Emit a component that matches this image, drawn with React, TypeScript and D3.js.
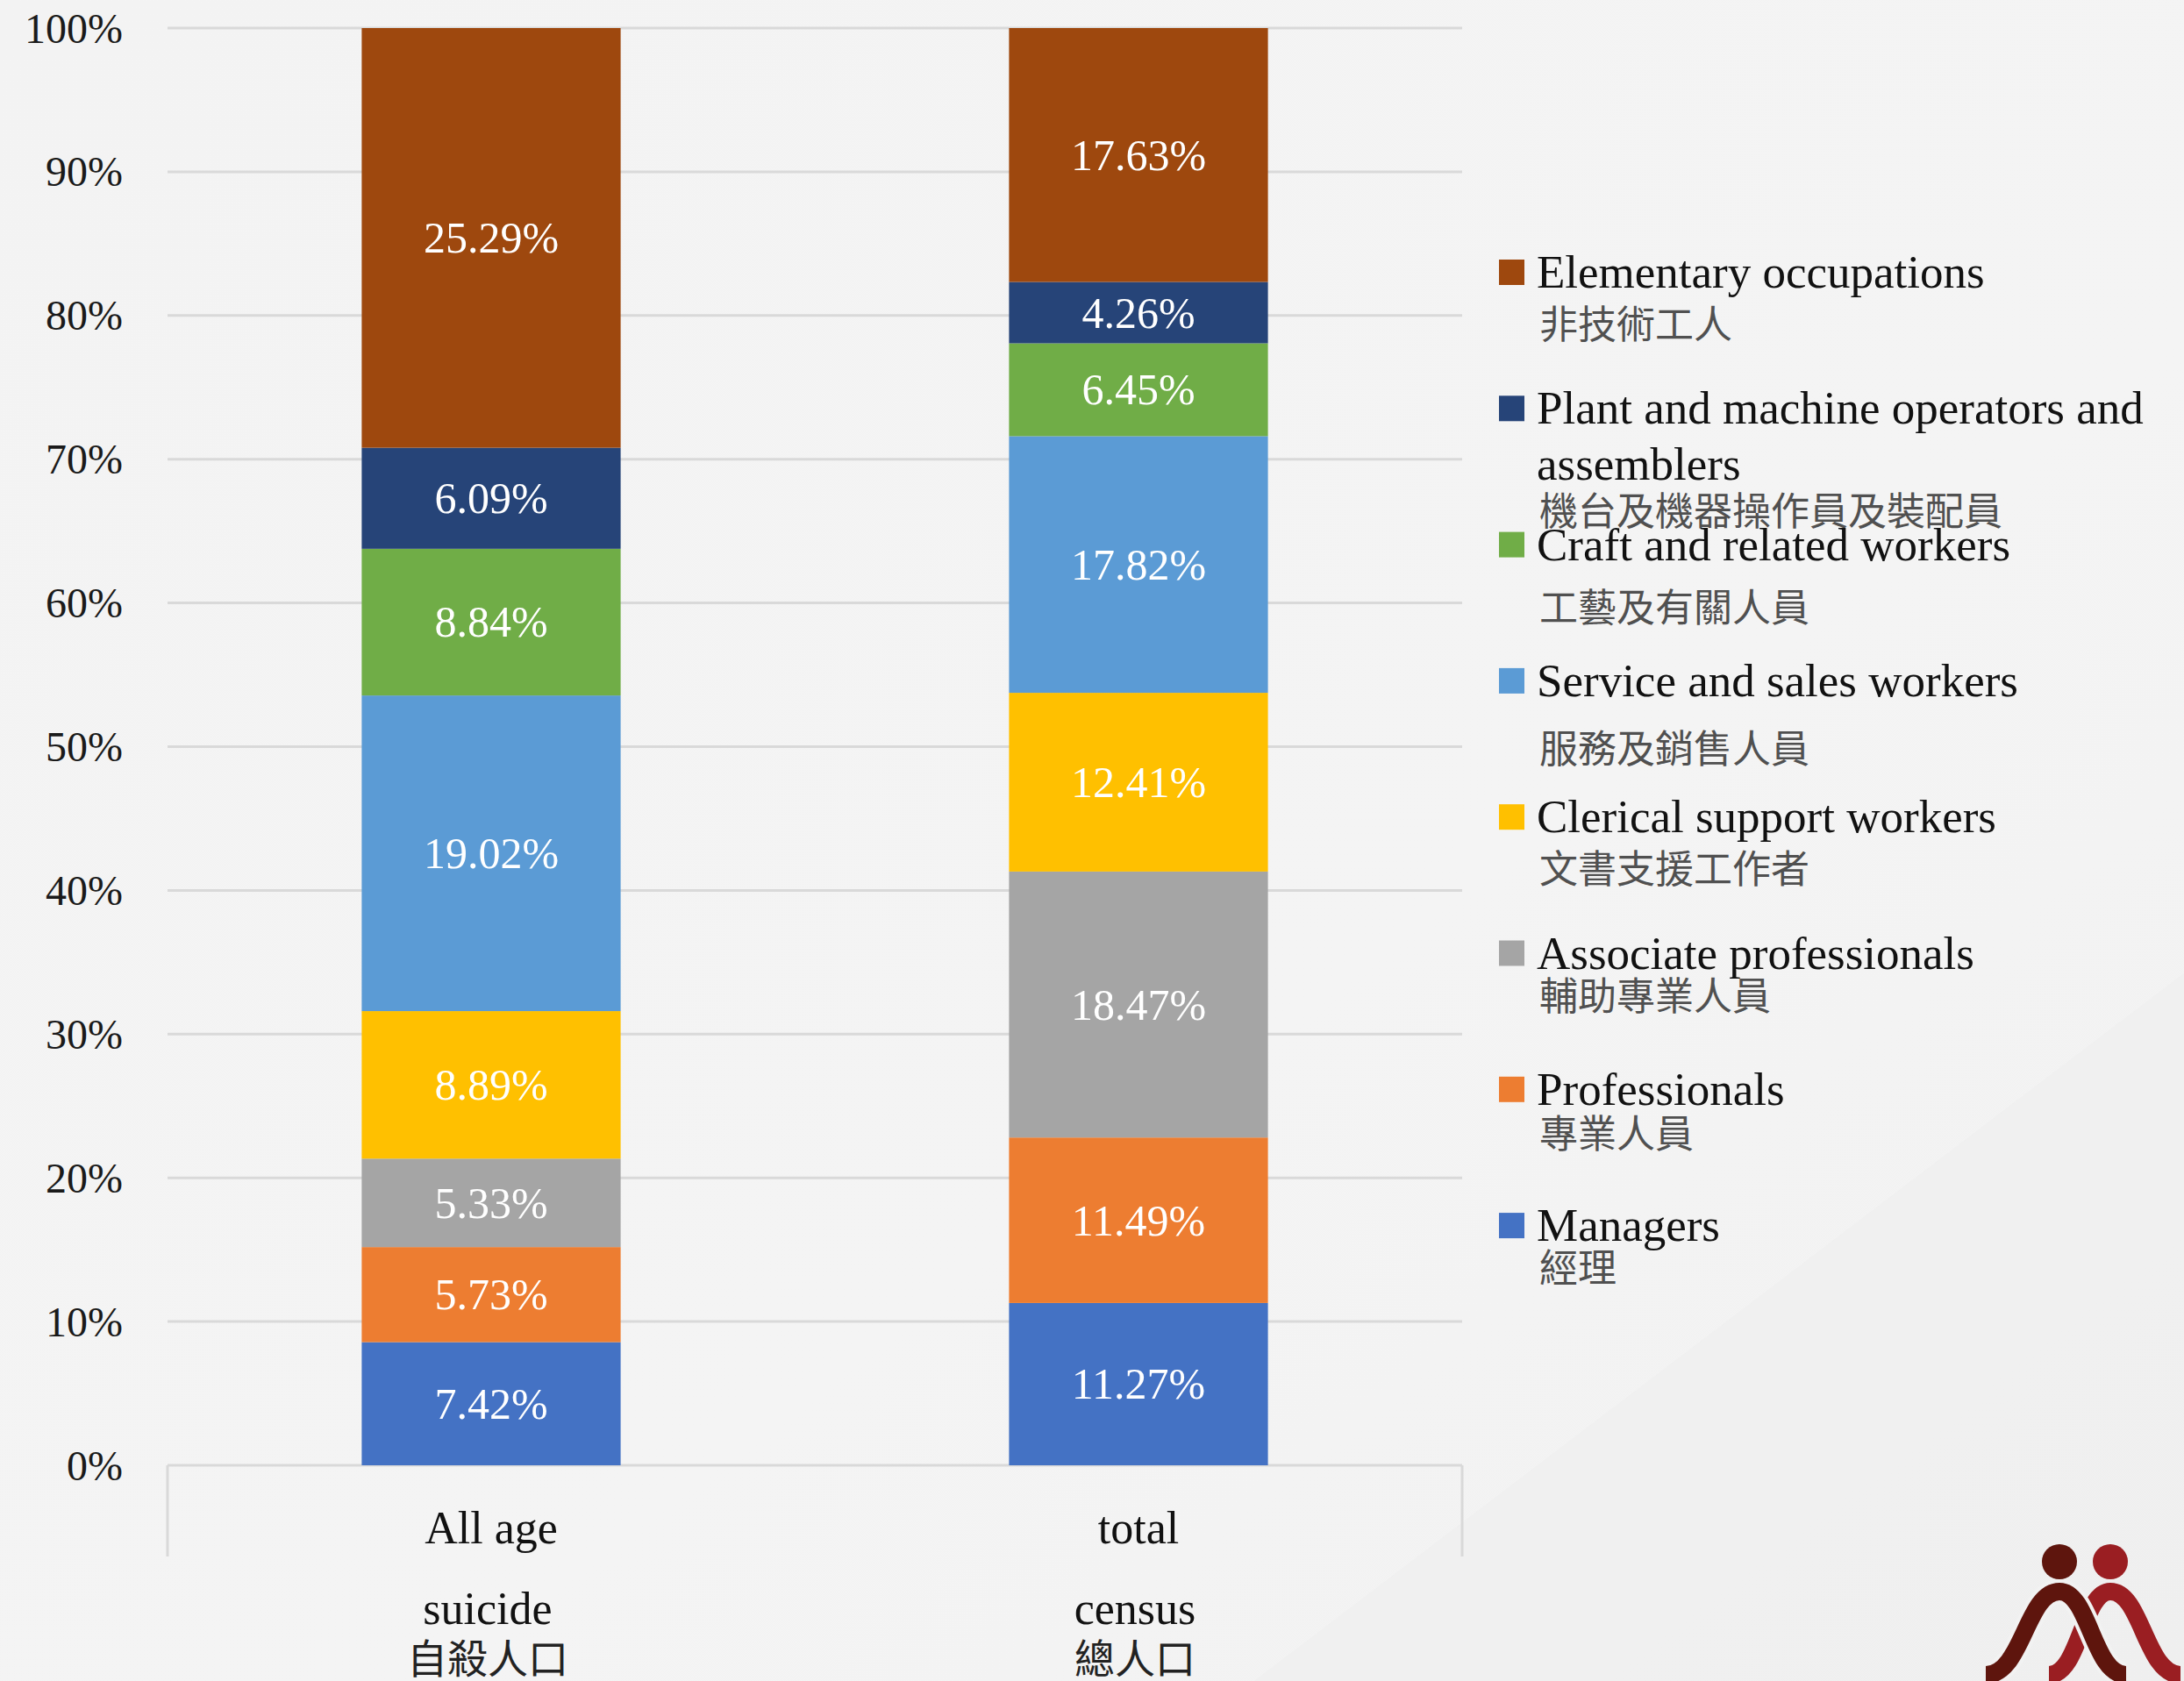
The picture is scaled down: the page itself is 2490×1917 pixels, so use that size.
// Occupation mix: suicide cases vs census population, 100% stacked bars
import React from 'react';
import * as d3 from 'd3';

const W = 2490;
const H = 1917;

const CATEGORIES = ['All age', 'total'];
const GROUPS_EN = ['suicide', 'census'];
const GROUPS_ZH = ['自殺人口', '總人口'];

// bottom -> top
const SERIES_KEYS = ['managers', 'professionals', 'associate', 'clerical', 'service', 'craft', 'plant', 'elementary'];
const SERIES_EN = [
  'Managers',
  'Professionals',
  'Associate professionals',
  'Clerical support workers',
  'Service and sales workers',
  'Craft and related workers',
  'Plant and machine operators and\nassemblers',
  'Elementary occupations',
];
const SERIES_ZH = ['經理', '專業人員', '輔助專業人員', '文書支援工作者', '服務及銷售人員', '工藝及有關人員', '機台及機器操作員及裝配員', '非技術工人'];
const SERIES_COLORS = ['#4472C4', '#ED7D31', '#A5A5A5', '#FFC000', '#5B9BD5', '#70AD47', '#264478', '#9E480E'];

const SUICIDE = [7.42, 5.73, 5.33, 8.89, 19.02, 8.84, 6.09, 25.29];
const CENSUS = [11.27, 11.49, 18.47, 12.41, 17.82, 6.45, 4.26, 17.63];

const Y_TICKS = [0, 0.1, 0.2, 0.3, 0.4, 0.5, 0.6, 0.7, 0.8, 0.9, 1];

const SERIF = '"Liberation Serif", "DejaVu Serif", serif';
const CJK = '"Noto Sans CJK TC", "Noto Sans CJK SC", sans-serif';

// legend layout (top -> bottom): distance from English line to Chinese line
const LEGEND_TOP = 310;
const LEGEND_STEP = 155.3;
const LEGEND_SUB_DY = [57, 115, 69, 75, 57, 46, 48, 46];

export default function App() {
  const margin = { left: 191, right: W - 1667, top: 32, bottom: H - 1671 };

  const rows = CATEGORIES.map((c, i) => {
    const vals = i === 0 ? SUICIDE : CENSUS;
    const r: Record<string, any> = { category: c };
    SERIES_KEYS.forEach((k, j) => (r[k] = vals[j]));
    return r;
  });

  const stacked = d3.stack<any>().keys(SERIES_KEYS).offset(d3.stackOffsetExpand)(rows);

  const x = d3.scaleBand()
    .domain(CATEGORIES)
    .range([margin.left, W - margin.right])
    .paddingInner(0.6)
    .paddingOuter(0.3);

  const y = d3.scaleLinear().domain([0, 1]).range([H - margin.bottom, margin.top]);
  const fmt = d3.format('.0%');

  const legendOrder = d3.range(SERIES_KEYS.length).reverse();

  // logo geometry
  const bell = (l: number, p: number, r: number, yb: number, yp: number) => {
    const dl = p - l;
    const dr = r - p;
    return `M${l},${yb} C${l + dl * 0.5},${yb} ${p - dl * 0.45},${yp} ${p},${yp} C${p + dr * 0.45},${yp} ${r - dr * 0.5},${yb} ${r},${yb}`;
  };

  return (
    <svg width={W} height={H} style={{ position: 'absolute', left: 0, top: 0, display: 'block' }}>
      <defs>
        <linearGradient id="bg" x1="0" y1="0" x2="1" y2="1">
          <stop offset="0" stopColor="#f3f3f3" />
          <stop offset="0.6" stopColor="#f4f4f4" />
          <stop offset="1" stopColor="#f1f1f1" />
        </linearGradient>
      </defs>
      <rect width={W} height={H} fill="url(#bg)" />
      <polygon points={`1430,${H} ${W},1110 ${W},${H}`} fill="#eeeeee" opacity={0.5} />

      {/* gridlines */}
      {Y_TICKS.map(t => (
        <line key={t} x1={margin.left} x2={W - margin.right} y1={y(t)} y2={y(t)} stroke="#d9d9d9" strokeWidth={3} />
      ))}
      {/* category axis frame */}
      <line x1={margin.left} x2={margin.left} y1={y(0)} y2={y(0) + 104} stroke="#d9d9d9" strokeWidth={3} />
      <line x1={W - margin.right} x2={W - margin.right} y1={y(0)} y2={y(0) + 104} stroke="#d9d9d9" strokeWidth={3} />

      {/* y tick labels */}
      {Y_TICKS.map(t => (
        <text key={t} x={140} y={y(t)} textAnchor="end" dominantBaseline="central"
          fontFamily={SERIF} fontSize={48} fill="#1a1a1a">{fmt(t)}</text>
      ))}

      {/* bars */}
      {stacked.map((s, si) => (
        <g key={s.key} fill={SERIES_COLORS[si]}>
          {s.map((d: any) => (
            <rect key={d.data.category} x={x(d.data.category)} width={x.bandwidth()}
              y={y(d[1])} height={y(d[0]) - y(d[1])} />
          ))}
        </g>
      ))}

      {/* data labels */}
      {stacked.map(s => (
        <g key={s.key + '-lab'}>
          {s.map((d: any) => (
            <text key={d.data.category}
              x={(x(d.data.category) as number) + x.bandwidth() / 2}
              y={(y(d[0]) + y(d[1])) / 2}
              textAnchor="middle" dominantBaseline="central"
              fontFamily={SERIF} fontSize={50} fill="#ffffff">
              {d.data[s.key].toFixed(2)}%
            </text>
          ))}
        </g>
      ))}

      {/* category labels */}
      {CATEGORIES.map((c, i) => {
        const cx = (x(c) as number) + x.bandwidth() / 2;
        return (
          <g key={c}>
            <text x={cx} y={1742} textAnchor="middle" dominantBaseline="central" fontFamily={SERIF} fontSize={52} fill="#111">{c}</text>
            <text x={cx - 4} y={1834} textAnchor="middle" dominantBaseline="central" fontFamily={SERIF} fontSize={52} fill="#111">{GROUPS_EN[i]}</text>
            <text x={cx - 4} y={1888} textAnchor="middle" dominantBaseline="central" fontFamily={CJK} fontSize={46} fill="#222">{GROUPS_ZH[i]}</text>
          </g>
        );
      })}

      {/* legend */}
      {legendOrder.map((si, row) => {
        const ly = LEGEND_TOP + row * LEGEND_STEP;
        const lines = SERIES_EN[si].split('\n');
        return (
          <g key={SERIES_KEYS[si]}>
            <rect x={1709} y={ly - 14} width={29} height={29} fill={SERIES_COLORS[si]} />
            {lines.map((ln, k) => (
              <text key={k} x={1752} y={ly + k * 64} dominantBaseline="central"
                fontFamily={SERIF} fontSize={53} fill="#111">{ln}</text>
            ))}
            <text x={1755} y={ly + LEGEND_SUB_DY[row]} dominantBaseline="central"
              fontFamily={CJK} fontSize={44} fill="#505050">{SERIES_ZH[si]}</text>
          </g>
        );
      })}

      {/* logo */}
      <g>
        <path d={bell(2336, 2406, 2486, 1910, 1815)} fill="none" stroke="#9a1e22" strokeWidth={20} />
        <path d={bell(2264, 2348, 2424, 1910, 1815)} fill="none" stroke="#f2f2f2" strokeWidth={28} />
        <path d={bell(2264, 2348, 2424, 1910, 1815)} fill="none" stroke="#5e150d" strokeWidth={20} />
        <circle cx={2348} cy={1781} r={20} fill="#5e150d" />
        <circle cx={2406} cy={1781} r={20} fill="#9a1e22" />
      </g>
    </svg>
  );
}
